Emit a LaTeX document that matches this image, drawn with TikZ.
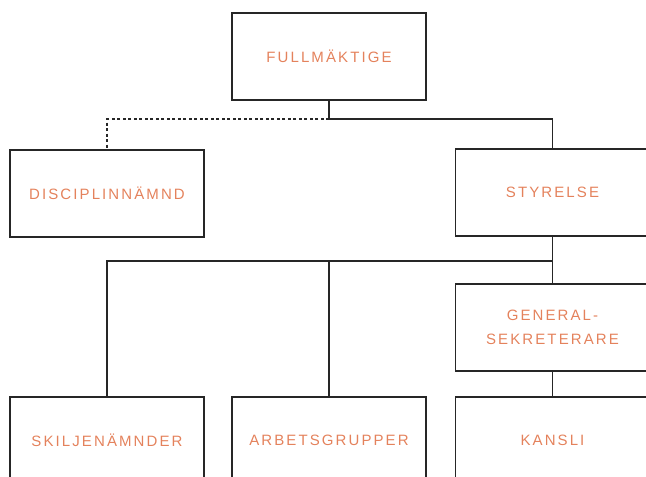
\documentclass[tikz,border=0pt]{standalone}
\usepackage{fontspec}
\setmainfont{Liberation Sans}[LetterSpace=14]
\usetikzlibrary{positioning}
\definecolor{orgorange}{HTML}{E4825C}
\tikzset{box/.style={draw=black!85,line width=1.1pt,minimum width=194pt,minimum height=87pt,text=orgorange,font=\fontsize{15}{24}\selectfont,align=center}}
\tikzset{link/.style={draw=black!85,line width=1.1pt}}
\tikzset{loose/.style={link,dash pattern=on 3pt off 2.5pt}}

\begin{document}
\begin{tikzpicture}[x=1pt,y=-1pt]
        \useasboundingbox (0,0) rectangle (646,477);
        \clip (0,0) rectangle (646,477);
        \node[box] (fullm) at (329,56.5) {FULLMÄKTIGE};
        \node[box,below=295.9pt of fullm] (arb) {ARBETSGRUPPER};
        \node[box,left=26.9pt of arb] (skil) {SKILJENÄMNDER};
        \node[box,right=28.4pt of arb] (kans) {KANSLI};
        \node[box,above=24.9pt of kans] (gen) {GENERAL-\\SEKRETERARE};
        \node[box,above=46.9pt of gen] (styr) {STYRELSE};
        \node[box,above=158.9pt of skil] (disc) {DISCIPLINNÄMND};
        \coordinate (toprow) at (0,119);
        \coordinate (midrow) at (0,261);
            \path[link] (fullm) -- (fullm |- toprow) -| (styr);
            \path[loose] (fullm |- toprow) -| (disc);
            \path[link] (styr) -- (gen);
            \path[link] (gen) -- (kans);
            \path[link] (styr |- midrow) -| (skil);
            \path[link] (arb |- midrow) -- (arb);
    \end{tikzpicture}
\end{document}
